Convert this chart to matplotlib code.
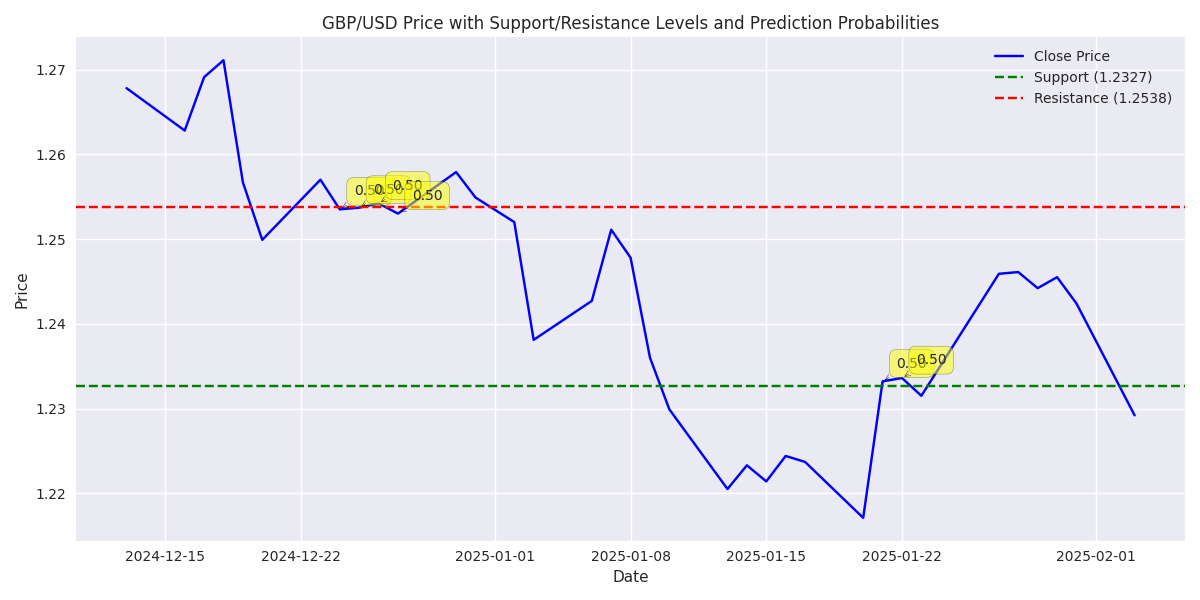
import numpy as np
import pandas as pd
import matplotlib
matplotlib.use("Agg")
import matplotlib.pyplot as plt

# close prices
dates = pd.to_datetime([
    "2024-12-13", "2024-12-16", "2024-12-17", "2024-12-18", "2024-12-19", "2024-12-20",
    "2024-12-23", "2024-12-24", "2024-12-25", "2024-12-26", "2024-12-27",
    "2024-12-30", "2024-12-31", "2025-01-02", "2025-01-03",
    "2025-01-06", "2025-01-07", "2025-01-08", "2025-01-09", "2025-01-10",
    "2025-01-13", "2025-01-14", "2025-01-15", "2025-01-16", "2025-01-17",
    "2025-01-20", "2025-01-21", "2025-01-22", "2025-01-23",
    "2025-01-27", "2025-01-28", "2025-01-29", "2025-01-30", "2025-01-31",
    "2025-02-03",
])
close = [
    1.2678, 1.2628, 1.2691, 1.2711, 1.2567, 1.2499,
    1.2570, 1.2535, 1.2537, 1.2542, 1.2530,
    1.2579, 1.2549, 1.2520, 1.2381,
    1.2427, 1.2511, 1.2478, 1.2360, 1.2299,
    1.2205, 1.2233, 1.2214, 1.2244, 1.2237,
    1.2171, 1.2332, 1.2336, 1.2315,
    1.2459, 1.2461, 1.2442, 1.2455, 1.2424,
    1.2292,
]
support = 1.2327
resistance = 1.2538

# points labelled with a prediction probability
prob_dates = pd.to_datetime(["2024-12-24", "2024-12-25", "2024-12-26", "2024-12-27",
                             "2025-01-21", "2025-01-22"])
prob_values = [0.50, 0.50, 0.50, 0.50, 0.50, 0.50]

plt.style.use("seaborn-v0_8")
plt.rcParams['font.family'] = ['DejaVu Sans']
fig, ax = plt.subplots(figsize=(12, 6), dpi=100)

ax.plot(dates, close, color="blue", label="Close Price")
ax.axhline(support, color="green", linestyle="--", label=f"Support ({support:.4f})")
ax.axhline(resistance, color="red", linestyle="--", label=f"Resistance ({resistance:.4f})")

price_lookup = dict(zip(dates, close))
for d, p in zip(prob_dates, prob_values):
    ax.annotate(f"{p:.2f}", xy=(d, price_lookup[d]), xytext=(10, 10),
                textcoords="offset points",
                bbox=dict(boxstyle="round,pad=0.5", fc="yellow", alpha=0.5),
                arrowprops=dict(arrowstyle="->", connectionstyle="arc3,rad=0"))

ax.set_title("GBP/USD Price with Support/Resistance Levels and Prediction Probabilities")
ax.set_xlabel("Date")
ax.set_ylabel("Price")
ax.legend()

plt.tight_layout()
plt.savefig("out.png")
